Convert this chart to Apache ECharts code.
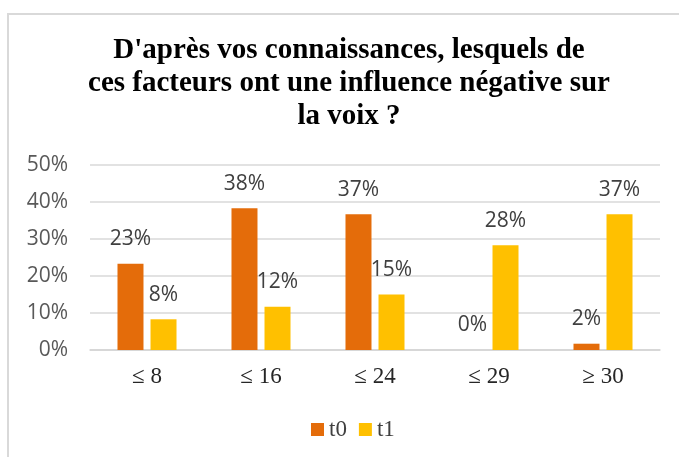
<!DOCTYPE html>
<html>
<head>
<meta charset="utf-8">
<script src="https://cdn.jsdelivr.net/npm/echarts@6/dist/echarts.min.js"></script>
<style>
  html, body { margin: 0; padding: 0; background: #fff; overflow: hidden; }
  #frame {
    position: absolute; left: 7px; top: 13px; width: 720px; height: 500px;
    border: 2px solid #d9d9d9; box-sizing: border-box;
  }
  #chart { position: absolute; left: 0; top: 0; width: 679px; height: 457px; }
</style>
</head>
<body>
<div id="frame"></div>
<div id="chart"></div>
<script>
// tranches et pourcentages
const categories = ["≤ 8", "≤ 16", "≤ 24", "≤ 29", "≥ 30"];
const t0Values = [23.3, 38.3, 36.7, 0, 1.7];
const t1Values = [8.3, 11.7, 15.0, 28.3, 36.7];
const yTicks = [0, 10, 20, 30, 40, 50];

const chart = echarts.init(document.getElementById("chart"));

const labelStyle = {
  show: true,
  position: "top",
  distance: 14,
  color: "#404040",
  fontFamily: "Open Sans",
  fontSize: 21,
  formatter: (p) => Math.round(p.value) + "%",
};

const option = {
  animation: false,
  title: {
    text: "D'après vos connaissances, lesquels de\nces facteurs ont une influence négative sur\nla voix ?",
    left: 349,
    top: 34,
    padding: 0,
    textAlign: "center",
    textStyle: {
      fontFamily: "Liberation Serif",
      fontWeight: "bold",
      fontSize: 29,
      lineHeight: 33,
      color: "#000",
    },
  },
  legend: {
    data: ["t0", "t1"],
    left: 311,
    top: 418,
    padding: 0,
    itemWidth: 13,
    itemHeight: 13,
    itemGap: 12,
    icon: "rect",
    textStyle: {
      fontFamily: "Liberation Serif",
      fontSize: 23,
      lineHeight: 23,
      color: "#404040",
    },
  },
  grid: {
    left: 90,
    right: 19,
    top: 165,
    bottom: 107,
  },
  xAxis: {
    type: "category",
    data: categories,
    axisTick: { show: false },
    axisLine: { lineStyle: { color: "#d4d4d4", width: 1.5 } },
    axisLabel: {
      margin: 15,
      fontFamily: "Liberation Serif",
      fontSize: 23,
      color: "#262626",
    },
  },
  yAxis: {
    type: "value",
    min: yTicks[0],
    max: yTicks[yTicks.length - 1],
    interval: yTicks[1] - yTicks[0],
    axisLine: { show: false },
    axisTick: { show: false },
    splitLine: { lineStyle: { color: "#d9d9d9", width: 1.5 } },
    axisLabel: {
      margin: 22,
      fontFamily: "Open Sans",
      fontSize: 21,
      color: "#595959",
      formatter: "{value}%",
    },
  },
  series: [
    {
      name: "t0",
      type: "bar",
      data: t0Values,
      barWidth: 26,
      barGap: "27%",
      itemStyle: { color: "#E46C0A" },
      label: labelStyle,
    },
    {
      name: "t1",
      type: "bar",
      data: t1Values,
      barWidth: 26,
      itemStyle: { color: "#FFC000" },
      label: labelStyle,
    },
  ],
};

chart.setOption(option);
</script>
</body>
</html>
